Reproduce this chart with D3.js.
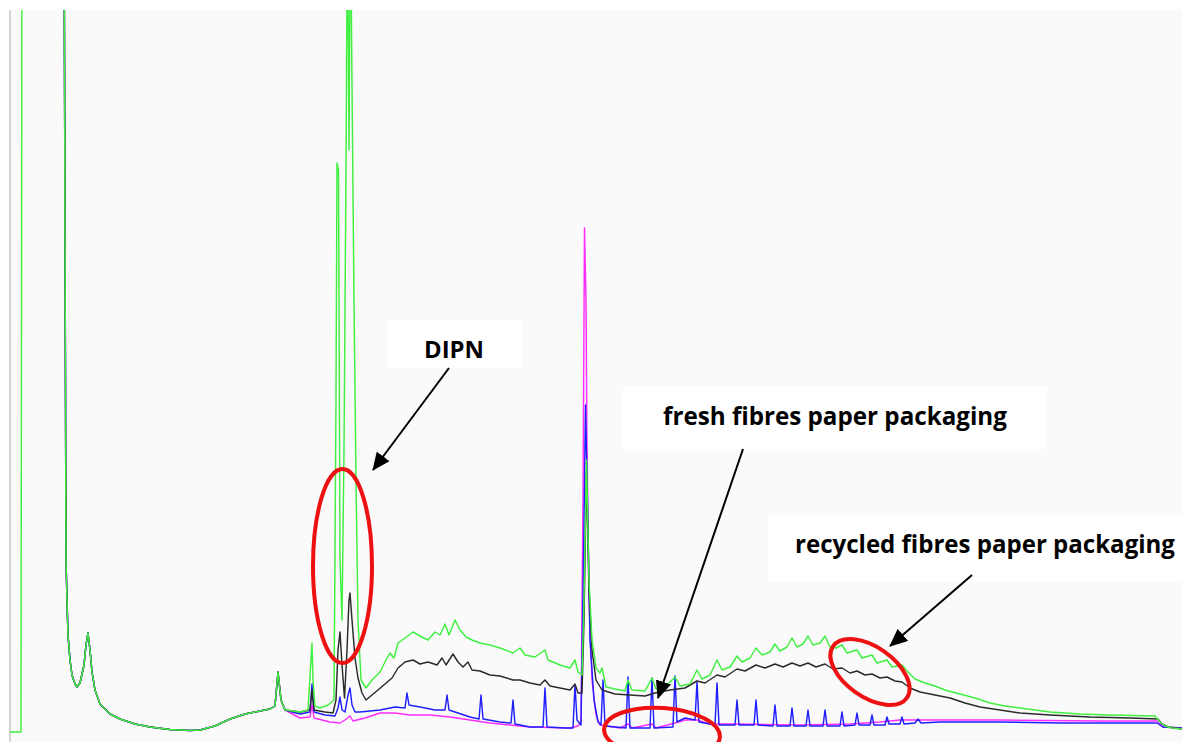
<!DOCTYPE html>
<html>
<head>
<meta charset="utf-8">
<script src="https://cdnjs.cloudflare.com/ajax/libs/d3/7.8.5/d3.min.js"></script>
<style>
  body { margin: 0; background: #fff; }
</style>
</head>
<body>
<div class="container"></div>
<script>
// retention time (min), detector signal
const solventTail = [[3.2,420],[3.3,86],[3.35,66],[3.4,48.5],[3.5,36],[3.6,28.5],[3.75,24],[3.85,22.5],[4.0,24.5],[4.2,33.5],[4.3,43.5],[4.4,49.5],[4.5,41],[4.6,30],[4.75,21],[5.0,14],[5.5,9],[6.0,6.5],[6.75,4],[7.5,2.5],[8.5,1.25],[9.5,0.75],[10.0,1],[10.75,3],[11.5,6.5],[12.25,9],[13.0,10.5],[13.5,11.5],[13.75,13],[13.9,30],[14.05,16],[14.25,11]]

const greenStart = [[0.5,0],[1.05,0],[1.1,420]]

const greenRest = [[15.0,10],[15.4,11],[15.55,36],[15.6,44.5],[15.65,26],[15.75,13],[16.0,12],[16.4,13.5],[16.7,16],[16.8,166],[16.85,284.5],[16.925,281],[17.0,86],[17.1,56],[17.2,141],[17.3,281],[17.375,416],[17.45,291],[17.525,416],[17.6,323.5],[17.7,216],[17.8,126],[17.9,56],[18.05,26],[18.3,22],[18.6,26],[19.0,30],[19.3,36],[19.5,39.5],[19.7,37],[19.9,44.5],[20.25,47],[20.65,50],[21.0,48],[21.4,46],[21.75,50],[22.0,48.5],[22.25,54],[22.45,48.5],[22.75,56],[23.0,51],[23.3,47.5],[23.6,46],[24.0,44.5],[24.5,43.5],[25.0,42],[25.65,39.5],[26.0,42],[26.25,38.5],[26.75,37.5],[27.25,41],[27.4,36],[28.0,33.5],[28.5,32],[28.75,36],[28.9,30],[29.1,28.5],[29.2,66],[29.325,136],[29.45,76],[29.6,46],[29.8,32],[30.0,29.5],[30.1,32],[30.3,22.5],[30.75,21.5],[31.25,20.5],[31.4,26],[31.6,21],[32.25,20.5],[32.6,27],[32.8,21.5],[33.25,22.5],[33.75,27.5],[34.0,23],[34.5,24],[34.85,31],[35.1,26.5],[35.5,28.5],[35.85,36],[36.1,31],[36.5,32.5],[36.85,38],[37.1,35],[37.5,37],[37.8,42],[38.1,38.5],[38.5,40],[38.75,44],[39.0,40.5],[39.35,42.5],[39.6,47],[39.85,42.5],[40.15,44],[40.4,48],[40.65,43.5],[41.0,44.5],[41.25,48],[41.5,42.5],[41.8,42],[42.1,43.5],[42.35,39.5],[42.85,41],[43.1,37],[43.6,38.5],[43.85,34.5],[44.35,36],[44.6,32.5],[45.1,33.5],[45.4,30],[45.75,26.5],[46.25,24.5],[46.75,23],[47.25,21],[48.0,19],[48.75,17],[49.5,14.5],[50.25,13],[51.0,12],[51.75,11],[52.5,10],[54.0,9],[55.5,8.5],[57.75,8],[58.0,5],[58.25,3],[58.6,2],[59.1,1.5]]

const blackRest = [[15.0,10],[15.5,11],[15.6,21],[15.7,11],[16.25,10],[16.65,9.5],[16.8,16],[16.9,41],[17.0,50],[17.1,33.5],[17.225,17],[17.35,41],[17.45,66],[17.5,69.5],[17.6,56],[17.75,37],[17.9,27],[18.1,19.5],[18.3,16],[18.6,18.5],[18.9,21],[19.25,24],[19.6,27],[19.9,32],[20.25,35],[20.65,36],[21.0,34],[21.4,35],[21.85,33.5],[22.1,37],[22.3,33.5],[22.65,39],[22.9,35],[23.15,32.5],[23.4,35],[23.6,31],[24.0,30.5],[24.5,28.5],[25.0,28],[25.65,26],[26.0,26],[26.5,24.5],[27.0,23.5],[27.25,26],[27.5,23],[28.0,22],[28.5,21],[28.75,24],[28.9,19.5],[29.1,19.5],[29.2,56],[29.325,131],[29.45,71],[29.6,41],[29.8,26],[30.1,21],[30.75,19],[31.5,18.5],[32.25,18],[32.75,19.5],[33.5,21],[34.25,22],[34.85,25.5],[35.25,24.5],[35.85,28.5],[36.25,27.5],[36.85,31.5],[37.25,30.5],[37.8,33.5],[38.25,32],[38.75,34],[39.15,32.5],[39.6,34.5],[40.0,33],[40.4,34.5],[40.8,32.5],[41.25,34],[41.65,31.5],[42.1,32],[42.5,29.5],[42.85,30.5],[43.25,28.5],[43.6,29],[44.0,27],[44.35,27.5],[44.75,25.5],[45.1,25],[45.5,22],[46.0,20],[46.75,18.5],[47.5,17],[48.25,14.5],[49.0,12.5],[50.0,11],[51.0,9.5],[52.5,8.5],[54.5,7.5],[56.5,7],[57.9,6.5],[58.1,4],[58.4,2.5],[59.1,1.5]]

const blueRest = [[15.0,9],[15.5,10],[15.6,24],[15.7,10],[16.25,8.5],[16.75,8],[16.9,12],[17.0,17.5],[17.1,11],[17.25,10],[17.4,18.5],[17.5,22],[17.6,13.5],[17.75,10],[18.0,10],[18.5,10.5],[19.0,11],[19.75,12.5],[20.25,12],[20.35,19.5],[20.45,13.5],[21.0,12.5],[21.75,11],[22.25,11],[22.35,18.5],[22.45,11],[22.75,10],[23.5,7.5],[23.95,6.5],[24.05,18.5],[24.15,6.5],[25.0,5],[25.55,4.5],[25.65,16],[25.75,4],[26.5,2.5],[27.15,2.5],[27.25,22],[27.35,2.5],[28.25,2],[28.65,2],[28.75,23.5],[28.85,6],[29.05,3.5],[29.175,86],[29.275,163.5],[29.375,116],[29.5,46],[29.7,16],[29.9,5],[30.05,3.5],[30.15,26],[30.25,3],[31.3,2],[31.4,27.5],[31.5,2],[32.5,2],[32.6,27],[32.7,2],[33.65,2.5],[33.75,28],[33.85,5],[34.25,7],[34.75,6],[34.85,25],[34.95,5],[35.75,3.5],[35.85,24.5],[35.95,3.5],[36.75,3.5],[36.85,16],[36.95,3.5],[37.7,3.5],[37.8,16],[37.9,3.5],[38.65,3],[38.75,13.5],[38.85,3],[39.5,3],[39.6,12],[39.7,3],[40.3,3],[40.4,11],[40.5,3],[41.15,3],[41.25,11],[41.35,3],[42.0,3],[42.1,10],[42.2,3],[42.75,3.5],[42.85,9.5],[42.95,3.5],[43.5,3.5],[43.6,8.5],[43.7,3.5],[44.25,3.5],[44.35,7.5],[44.45,4],[45.0,4],[45.1,7.5],[45.2,4],[45.75,4.5],[45.9,6.5],[46.05,4.5],[47.0,5],[50.0,5],[53.0,4.5],[57.85,4.5],[58.15,2.5],[59.1,2]]

const magentaRest = [[15.0,7],[15.5,7.5],[15.6,13.5],[15.7,7],[16.5,5],[17.0,4.5],[17.25,6],[17.5,8],[17.65,5.5],[18.25,7],[19.0,9.5],[19.75,9.5],[20.5,8.5],[21.5,8.5],[22.5,7.5],[23.5,6],[24.5,4.5],[25.5,3.5],[26.5,2.5],[28.5,2],[28.9,3],[29.05,5],[29.15,116],[29.225,252],[29.3,216],[29.35,141],[29.45,66],[29.6,26],[29.8,8.5],[30.0,3.5],[31.0,2],[31.4,4],[31.6,2],[32.6,4],[32.8,2],[33.75,4.5],[34.25,6],[34.85,6],[35.5,4],[37.0,4],[40.0,3.5],[42.5,4],[44.0,5],[45.0,6],[50.0,6],[55.0,5.5],[57.85,5.5],[58.15,2.5],[59.1,2]]

const labels = ["DIPN", "fresh fibres paper packaging", "recycled fibres paper packaging"]

const traces = [
    { name: "magenta", color: "#ff2cff", data: solventTail.concat(magentaRest) },
    { name: "blue", color: "#1f1fff", data: solventTail.concat(blueRest) },
    { name: "black", color: "#2a2a2a", data: solventTail.concat(blackRest) },
    { name: "green", color: "#3ff03f", data: greenStart.concat(solventTail, greenRest) }
]

// label boxes [t0, t1, vTop, vBottom], text centre/baseline, arrow from -> to (data units)
const annotations = [
    { text: labels[0], box: [19.4, 26.1, 206, 182], at: [22.7, 187], w: 60, arrow: [[22.45, 182], [18.65, 131]] },
    { text: labels[1], box: [31.15, 52.35, 173, 141.5], at: [41.75, 153.5], w: 344, arrow: [[37.15, 141.5], [32.9, 17]] },
    { text: labels[2], box: [38.4, 60.1, 108.5, 75], at: [49.25, 89.5], w: 380, arrow: [[48.6, 78.5], [44.5, 43]] }
]
// red rings: centre (data units), radii px, tilt deg
const rings = [
    { c: [17.125, 83], rx: 29.5, ry: 97, tilt: 0 },
    { c: [33.1, -0.5], rx: 58, ry: 25, tilt: 4 },
    { c: [43.5, 30], rx: 45, ry: 25, tilt: 35 }
]

const width = 1182
const height = 742

const xScale = d3.scaleLinear().domain([0.5, 59.1]).range([10, width])
const yScale = d3.scaleLinear().domain([0, 361]).range([732, 10])

const svg = d3.select(".container").append("svg")
    .attr("width", width)
    .attr("height", height)
    .style("display", "block")

const defs = svg.append("defs")
defs.append("clipPath").attr("id", "plotClip")
    .append("rect")
    .attr("x", 10).attr("y", 10)
    .attr("width", width - 10).attr("height", height - 10)

defs.append("marker")
    .attr("id", "head")
    .attr("markerUnits", "userSpaceOnUse")
    .attr("viewBox", "0 0 18 16")
    .attr("refX", 17).attr("refY", 8)
    .attr("markerWidth", 18).attr("markerHeight", 16)
    .attr("orient", "auto")
    .append("path")
    .attr("d", "M0,0 L18,8 L0,16 Z")
    .attr("fill", "#000")

svg.append("rect")
    .attr("x", 10).attr("y", 10)
    .attr("width", width - 10).attr("height", height - 10)
    .attr("fill", "#fafafa")

svg.append("line")
    .attr("x1", 10).attr("x2", 10)
    .attr("y1", 10).attr("y2", height)
    .attr("stroke", "#d2d2d2").attr("stroke-width", 2)

const line = d3.line()
    .x(d => xScale(d[0]))
    .y(d => yScale(d[1]))

svg.append("g")
    .attr("clip-path", "url(#plotClip)")
    .selectAll("path")
    .data(traces)
    .enter()
    .append("path")
    .attr("d", d => line(d.data))
    .attr("fill", "none")
    .attr("stroke", d => d.color)
    .attr("stroke-width", 1.45)
    .attr("stroke-linejoin", "round")

const notes = svg.append("g")

notes.selectAll("rect")
    .data(annotations)
    .enter()
    .append("rect")
    .attr("x", d => xScale(d.box[0]))
    .attr("y", d => yScale(d.box[2]))
    .attr("width", d => xScale(d.box[1]) - xScale(d.box[0]))
    .attr("height", d => yScale(d.box[3]) - yScale(d.box[2]))
    .attr("fill", "#fff")

notes.selectAll("text")
    .data(annotations)
    .enter()
    .append("text")
    .attr("x", d => xScale(d.at[0]))
    .attr("y", d => yScale(d.at[1]))
    .attr("text-anchor", "middle")
    .style("font-family", "'Open Sans', sans-serif")
    .style("font-weight", "bold")
    .style("font-size", "24px")
    .attr("fill", "#000")
    .text(d => d.text)
    .each(function(d){
        const w = this.getComputedTextLength()
        d3.select(this).style("font-size", (24 * d.w / w).toFixed(2) + "px")
    })

notes.selectAll("line")
    .data(annotations)
    .enter()
    .append("line")
    .attr("x1", d => xScale(d.arrow[0][0]))
    .attr("y1", d => yScale(d.arrow[0][1]))
    .attr("x2", d => xScale(d.arrow[1][0]))
    .attr("y2", d => yScale(d.arrow[1][1]))
    .attr("stroke", "#000")
    .attr("stroke-width", 2)
    .attr("marker-end", "url(#head)")

svg.selectAll("ellipse")
    .data(rings)
    .enter()
    .append("ellipse")
    .attr("transform", d => `translate(${xScale(d.c[0])},${yScale(d.c[1])}) rotate(${d.tilt})`)
    .attr("rx", d => d.rx)
    .attr("ry", d => d.ry)
    .attr("fill", "none")
    .attr("stroke", "#ee1111")
    .attr("stroke-width", 4)
</script>
</body>
</html>
